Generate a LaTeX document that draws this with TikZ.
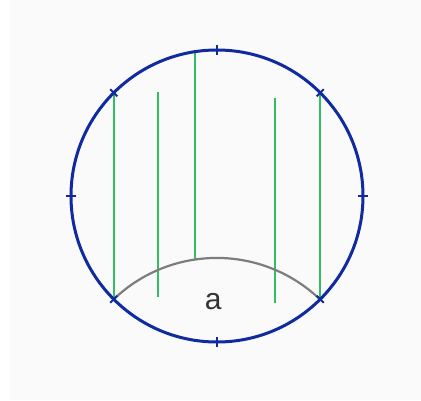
\documentclass[tikz,border=0pt]{standalone}
\usepackage{fontspec}
\setmainfont{Liberation Sans}
\definecolor{rimblue}{RGB}{16,42,160}
\definecolor{chordgreen}{RGB}{52,190,100}
\definecolor{arcgray}{RGB}{125,125,125}
\definecolor{panelgray}{RGB}{250,250,250}
\tikzset{
    rim/.style={draw=rimblue, line width=3pt},
    tick/.style={draw=rimblue, line width=2pt},
    chord/.style={draw=chordgreen, line width=2.3pt},
    bowarc/.style={draw=arcgray, line width=2.2pt}
}

\begin{document}
\begin{tikzpicture}[x=1pt,y=1pt]
            \useasboundingbox (-217,-204) rectangle (204,196);
            \fill[panelgray] (-207,-204) rectangle (204,196);

            \coordinate (c) at (0,0);
            \foreach \a in {0,45,...,315}{
                \coordinate (t\a) at (\a:146);
            }
            \coordinate (g2t) at (-58.7,104.3);
            \coordinate (g2b) at (-58.7,-100.7);
            \coordinate (g3t) at (-22,144.3);
            \coordinate (g3b) at (-22,-63.3);
            \coordinate (g4t) at (58,98.3);
            \coordinate (g4b) at (58,-107.3);

            \draw[chord] (t135)--(t225);
            \draw[chord] (g2t)--(g2b);
            \draw[chord] (g3t)--(g3b);
            \draw[chord] (g4t)--(g4b);
            \draw[chord] (t45)--(t315);

            \draw[bowarc] (t225) arc[start angle=133.7, end angle=46.3, radius=149.1];

            \draw[rim] (c) circle (146);
            \foreach \a in {0,45,...,315}{
                \draw[tick] (\a:141)--(\a:151);
            }

            \node[text=black!80, font=\fontsize{30}{36}\selectfont] (lbl) at (-3.7,-105.7) {a};
        \end{tikzpicture}
\end{document}
